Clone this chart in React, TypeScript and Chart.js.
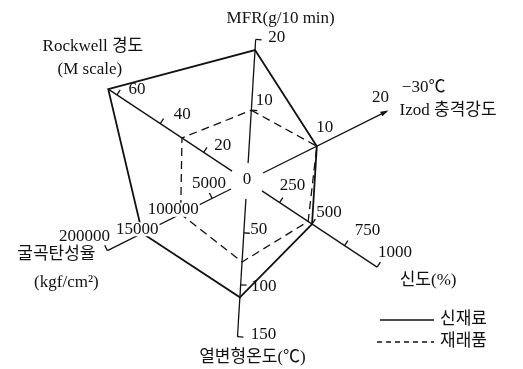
import React, { useEffect, useRef } from "react";
import { Chart, registerables } from "chart.js";

Chart.register(...registerables);

// ---- data ----
const categories = ["MFR", "Izod 충격강도", "신도", "열변형온도", "굴곡탄성율", "Rockwell 경도"];
const axisFullScale = [22, 20, 1000, 150, 200000, 60];
const newMaterial = [18.5, 10, 500, 112, 150000, 64];
const oldMaterial = [10, 10, 470, 78, 95000, 30];
const seriesLabels = ["신재료", "재래품"];

const mfrTicks = [10, 20];
const izodTicks = [10, 20];
const elongationTicks = [250, 500, 750, 1000];
const hdtTicks = [50, 100, 150];
const flexTicks = [50000, 100000, 150000, 200000];
const flexTickLabels = ["5000", "100000", "15000", "200000"];
const rockwellTicks = [20, 40, 60];
const centerLabel = "0";

const axisTitles = [
  ["MFR(g/10 min)"],
  ["−30℃", "Izod 충격강도"],
  ["신도(%)"],
  ["열변형온도(℃)"],
  ["굴곡탄성율", "(kgf/cm²)"],
  ["Rockwell 경도", "(M scale)"],
];

const tickValues = [mfrTicks, izodTicks, elongationTicks, hdtTicks, flexTicks, rockwellTicks];
const tickTexts = [
  mfrTicks.map(String),
  izodTicks.map(String),
  elongationTicks.map(String),
  hdtTicks.map(String),
  flexTickLabels,
  rockwellTicks.map(String),
];

// ---- styling (drawing only) ----
const FONT = '17px "Liberation Serif", "Noto Sans CJK KR", serif';
const INK = "#111";
const tickSide = [1, 0, -1, -1, 1, 1];
const tickLabelOffsets = [
  [[13, -10], [21, -2]],
  [[8, -19], [-6, -14]],
  [[13, -17], [17, -12], [23, -15], [18, -15]],
  [[15, -3], [23, 2], [26, -2]],
  [[-3, -15], [-4, -6], [-5, -4], [-23, -14]],
  [[19, -7], [22, -9], [20, -5]],
];
const titleOffsets: [number, number, CanvasTextAlign][][] = [
  [[25, -21, "center"]],
  [[37, -24, "center"], [13, -1, "left"]],
  [[51, 13, "center"]],
  [[15, 21, "center"]],
  [[-51, 4, "center"], [-41, 32, "center"]],
  [[-24, -48, "center"], [-27, -25, "center"]],
];

function dirs(s: any, i: number) {
  const a = s.getPointPositionForValue(i, 0);
  const b = s.getPointPositionForValue(i, 1);
  const dx = b.x - a.x, dy = b.y - a.y;
  const L = Math.hypot(dx, dy);
  return { ux: dx / L, uy: dy / L, px: -dy / L, py: dx / L };
}

const axisPlugin = {
  id: "customAxes",
  beforeDatasetsDraw(chart: any) {
    const s = chart.scales.r;
    const ctx = chart.ctx as CanvasRenderingContext2D;
    ctx.save();
    ctx.strokeStyle = INK;
    ctx.fillStyle = INK;
    ctx.lineWidth = 1.3;
    ctx.lineCap = "butt";
    for (let i = 0; i < categories.length; i++) {
      const ticks = tickValues[i];
      const full = axisFullScale[i];
      const endVal = Math.max(ticks[ticks.length - 1], newMaterial[i], oldMaterial[i]) / full;
      const a = s.getPointPositionForValue(i, 0.115);
      const b = s.getPointPositionForValue(i, endVal);
      const d = dirs(s, i);
      ctx.beginPath();
      ctx.moveTo(a.x, a.y);
      ctx.lineTo(b.x, b.y);
      ctx.stroke();
      if (tickSide[i] !== 0) {
        for (const v of ticks) {
          const t = s.getPointPositionForValue(i, v / full);
          ctx.beginPath();
          ctx.moveTo(t.x, t.y);
          ctx.lineTo(t.x + tickSide[i] * d.px * 6, t.y + tickSide[i] * d.py * 6);
          ctx.stroke();
        }
      } else {
        // arrow head at the end
        const tipX = b.x + d.ux * 2, tipY = b.y + d.uy * 2;
        ctx.beginPath();
        ctx.moveTo(tipX, tipY);
        ctx.lineTo(b.x - d.ux * 6 + d.px * 2.5, b.y - d.uy * 6 + d.py * 2.5);
        ctx.lineTo(b.x - d.ux * 6 - d.px * 2.5, b.y - d.uy * 6 - d.py * 2.5);
        ctx.closePath();
        ctx.fill();
      }
    }
    ctx.restore();
  },
  afterDatasetsDraw(chart: any) {
    const s = chart.scales.r;
    const ctx = chart.ctx as CanvasRenderingContext2D;
    ctx.save();
    ctx.font = FONT;
    ctx.fillStyle = INK;
    ctx.textBaseline = "middle";
    // center label
    const c = s.getPointPositionForValue(0, 0);
    ctx.textAlign = "center";
    ctx.fillText(centerLabel, c.x, c.y - 1);
    for (let i = 0; i < categories.length; i++) {
      const ticks = tickValues[i];
      const full = axisFullScale[i];
      ticks.forEach((v, k) => {
        const t = s.getPointPositionForValue(i, v / full);
        const [ox, oy] = tickLabelOffsets[i][k];
        const txt = tickTexts[i][k];
        const x = t.x + ox, y = t.y + oy;
        if (i === 4) {
          const w = ctx.measureText(txt).width;
          ctx.fillStyle = "#fff";
          ctx.fillRect(x - w / 2 - 1, y - 7, w + 2, 14);
          ctx.fillStyle = INK;
        }
        ctx.textAlign = "center";
        ctx.fillText(txt, x, y);
      });
      const last = s.getPointPositionForValue(i, ticks[ticks.length - 1] / full);
      axisTitles[i].forEach((txt, k) => {
        const [ox, oy, al] = titleOffsets[i][k];
        ctx.textAlign = al;
        ctx.fillText(txt, last.x + ox, last.y + oy);
      });
    }
    ctx.restore();
  },
  afterDraw(chart: any) {
    const ctx = chart.ctx as CanvasRenderingContext2D;
    const ds = chart.data.datasets;
    ctx.save();
    ctx.font = FONT;
    ctx.fillStyle = INK;
    ctx.strokeStyle = INK;
    ctx.textBaseline = "middle";
    ctx.textAlign = "left";
    const rows = [320, 342];
    ds.forEach((d: any, k: number) => {
      const y = rows[k];
      ctx.lineWidth = 1.4;
      ctx.setLineDash(d.borderDash && d.borderDash.length ? [5, 4] : []);
      ctx.beginPath();
      ctx.moveTo(k === 0 ? 380 : 377, y);
      ctx.lineTo(434, y);
      ctx.stroke();
      ctx.setLineDash([]);
      ctx.fillText(d.label, 440, y);
    });
    ctx.restore();
  },
};

export default function App() {
  const ref = useRef<HTMLCanvasElement>(null);
  useEffect(() => {
    const canvas = ref.current;
    if (!canvas) return;
    const norm = (arr: number[]) => arr.map((v, i) => v / axisFullScale[i]);
    const chart = new Chart(canvas, {
      type: "radar",
      data: {
        labels: categories,
        datasets: [
          {
            label: seriesLabels[0],
            data: norm(newMaterial),
            borderColor: INK,
            backgroundColor: "transparent",
            borderWidth: 1.8,
            fill: false,
            pointRadius: 0,
            pointHoverRadius: 0,
            tension: 0,
          },
          {
            label: seriesLabels[1],
            data: norm(oldMaterial),
            borderColor: INK,
            backgroundColor: "transparent",
            borderWidth: 1.3,
            borderDash: [8, 5],
            fill: false,
            pointRadius: 0,
            pointHoverRadius: 0,
            tension: 0,
          },
        ],
      },
      options: {
        responsive: false,
        animation: false,
        devicePixelRatio: 1,
        layout: { padding: { left: 0, right: 29, top: 0, bottom: 7 } },
        plugins: { legend: { display: false }, tooltip: { enabled: false }, title: { display: false } },
        scales: {
          r: {
            min: 0,
            max: 181 / 156,
            startAngle: 3.5,
            grid: { display: false },
            angleLines: { display: false },
            ticks: { display: false },
            pointLabels: { display: false },
          },
        },
      },
      plugins: [axisPlugin],
    } as any);
    return () => chart.destroy();
  }, []);
  return (
    <div style={{ position: "fixed", left: 0, top: 0, width: 523, height: 369, background: "#fff" }}>
      <canvas ref={ref} width={523} height={369} style={{ display: "block", width: 523, height: 369 }} />
    </div>
  );
}
